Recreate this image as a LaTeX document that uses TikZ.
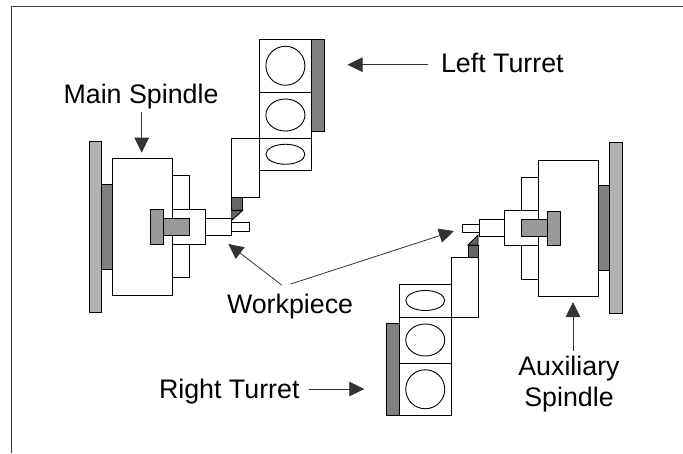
\documentclass[tikz,border=0pt]{standalone}
\usepackage{fontspec}
\setmainfont{Liberation Sans}
\usetikzlibrary{arrows.meta,positioning,shapes}

\begin{document}
\begin{tikzpicture}[x=1pt,y=-1pt,>={Triangle[length=15pt,width=14.5pt]},line width=0.9pt]
	    \tikzstyle{box}=[draw=black,rectangle,inner sep=0pt,outer sep=0pt,fill=white]
	    \tikzstyle{base}=[box,fill=black!30]
	    \tikzstyle{plate}=[box,fill=black!50]
	    \tikzstyle{stem}=[box,fill=black!40]
	    \tikzstyle{tool}=[box,fill=black!60]
	    \tikzstyle{oval}=[draw=black,ellipse,inner sep=0pt,outer sep=0pt,minimum width=39pt]
	    \tikzstyle{label}=[inner sep=0pt,outer sep=0pt,font=\fontsize{26.8pt}{31pt}\selectfont,align=center]
	    \tikzstyle{pointer}=[line width=0.8pt,black!80]

	    \useasboundingbox (0,0) rectangle (683,453);

	    \coordinate (frame a) at (11.5,453);
	    \coordinate (frame b) at (11.5,6.5);
	    \coordinate (frame c) at (683,6.5);
	    \draw[line width=1pt,black!75] (frame a) -- (frame b) -- (frame c);

	    \node[box, anchor=north west, minimum width=60pt, minimum height=136.5pt] (main body) at (112,158.5) {};
	    \node[plate, minimum width=10.5pt, minimum height=85pt] (main plate) [left=0pt of main body] {};
	    \node[base, minimum width=12.5pt, minimum height=171pt] (main base) [left=0pt of main plate] {};
	    \node[box, minimum width=33.5pt, minimum height=35pt] (main chuck) [right=0pt of main body] {};
	    \node[box, anchor=south west, minimum width=17pt, minimum height=33.5pt] (main jaw a) at (main chuck.north west) {};
	    \node[box, anchor=north west, minimum width=17pt, minimum height=33.5pt] (main jaw b) at (main chuck.south west) {};
	    \node[box, minimum width=26pt, minimum height=17.5pt] (main nose) [right=0pt of main chuck] {};
	    \node[box, minimum width=17.5pt, minimum height=8.5pt] (main tip) [right=0pt of main nose] {};
	    \node[stem, anchor=east, minimum width=25.5pt, minimum height=17.5pt] (main stem) at ([xshift=17pt]main chuck.west) {};
	    \node[stem, minimum width=13pt, minimum height=35pt] (main flange) [left=0pt of main stem] {};

	    \node[box, anchor=north west, minimum width=52.2pt, minimum height=52.5pt] (left a) at (259.3,39.5) {};
	    \node[box, minimum width=52.2pt, minimum height=46pt] (left b) [below=0pt of left a] {};
	    \node[box, minimum width=52.2pt, minimum height=32.5pt] (left c) [below=0pt of left b] {};
	    \node[plate, anchor=north west, minimum width=12.5pt, minimum height=91.5pt] (left bar) at (left a.north east) {};
	    \node[oval, minimum height=39pt] (left oval a) at (left a) {};
	    \node[oval, minimum height=32pt] (left oval b) at (left b) {};
	    \node[oval, minimum height=20pt] (left oval c) at (left c) {};
	    \node[box, anchor=north east, minimum width=27.6pt, minimum height=59pt] (left holder) at (left c.north west) {};
	    \node[tool, anchor=north west, minimum width=11pt, minimum height=13.3pt] (left tool) at (left holder.south west) {};
	    \draw[fill=black!60] (left tool.south west) -- (left tool.south east) -- ([yshift=-10pt]left tool.south west) -- cycle;

	    \node[box, anchor=north west, minimum width=59.5pt, minimum height=136.5pt] (aux body) at (538.5,160) {};
	    \node[plate, minimum width=11pt, minimum height=85pt] (aux plate) [right=0pt of aux body] {};
	    \node[base, minimum width=13pt, minimum height=171pt] (aux base) [right=0pt of aux plate] {};
	    \node[box, minimum width=34.5pt, minimum height=35pt] (aux chuck) [left=0pt of aux body] {};
	    \node[box, anchor=south east, minimum width=17.5pt, minimum height=33.5pt] (aux jaw a) at (aux chuck.north east) {};
	    \node[box, anchor=north east, minimum width=17.5pt, minimum height=34pt] (aux jaw b) at (aux chuck.south east) {};
	    \node[box, minimum width=25pt, minimum height=17pt] (aux nose) [left=0pt of aux chuck] {};
	    \node[box, minimum width=17pt, minimum height=8.5pt] (aux tip) [left=0pt of aux nose] {};
	    \node[stem, anchor=west, minimum width=26pt, minimum height=17pt] (aux stem) at ([xshift=-17.5pt]aux chuck.east) {};
	    \node[stem, minimum width=13pt, minimum height=34.5pt] (aux flange) [right=0pt of aux stem] {};

	    \node[box, anchor=north west, minimum width=52.5pt, minimum height=33pt] (right c) at (399,284) {};
	    \node[box, minimum width=52.5pt, minimum height=46pt] (right b) [below=0pt of right c] {};
	    \node[box, minimum width=52.5pt, minimum height=52.5pt] (right a) [below=0pt of right b] {};
	    \node[plate, anchor=south east, minimum width=13pt, minimum height=92.5pt] (right bar) at (right a.south west) {};
	    \node[oval, minimum height=39pt] (right oval a) at (right a) {};
	    \node[oval, minimum height=32pt] (right oval b) at (right b) {};
	    \node[oval, minimum height=20pt] (right oval c) at (right c) {};
	    \node[box, anchor=south west, minimum width=26.5pt, minimum height=59.5pt] (right holder) at (right c.south east) {};
	    \node[tool, anchor=south east, minimum width=10pt, minimum height=12.5pt] (right tool) at (right holder.north east) {};
	    \draw[fill=black!60] (right tool.north east) -- (right tool.north west) -- ([yshift=10pt]right tool.north east) -- cycle;

	    \node[label, anchor=base west] (left label) at (441,72.7) {Left Turret};
	    \node[label, anchor=base] (main label) at (141,103) {Main Spindle};
	    \node[label, anchor=base west] (work label) at (227,313) {Workpiece};
	    \node[label, anchor=base west] (right label) at (159,398.3) {Right Turret};
	    \node[label, anchor=north] (aux label) at (569,356) {Auxiliary \\ Spindle};

	    \coordinate (left from) at (428,64.7);
	    \coordinate (left to) at (347.5,64.7);
	    \coordinate (main from) at (141.7,112);
	    \coordinate (main to) at (141.7,152.7);
	    \coordinate (work from a) at (281.7,285);
	    \coordinate (work to a) at (228.3,244);
	    \coordinate (work from b) at (290.7,284);
	    \coordinate (work to b) at (454,231);
	    \coordinate (right from) at (309.3,389);
	    \coordinate (right to) at (364.3,389);
	    \coordinate (aux from) at (573,350.7);
	    \coordinate (aux to) at (573,302);

	    \path[->,pointer]
	    (left from) 	edge (left to)
	    (main from) 	edge (main to)
	    (work from a) 	edge (work to a)
	    (work from b) 	edge (work to b)
	    (right from) 	edge (right to)
	    (aux from) 		edge (aux to)
	    ;

\end{tikzpicture}
\end{document}
